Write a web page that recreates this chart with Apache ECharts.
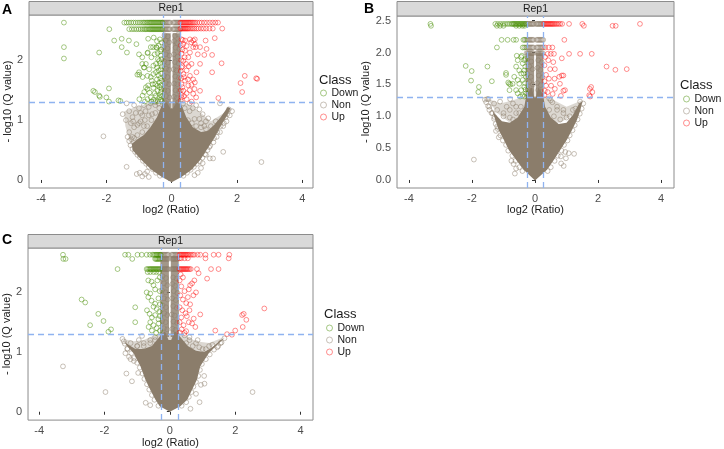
<!DOCTYPE html>
<html><head><meta charset="utf-8">
<script src="https://cdn.jsdelivr.net/npm/echarts@6/dist/echarts.min.js"></script>
<style>html,body{margin:0;padding:0;background:#fff}#c{width:724px;height:449px}</style>
</head><body><div id="c"></div>
<script>
// ---------- shared ----------
const classes = ['Down', 'Non', 'Up'];
const xTicks = [-4, -2, 0, 2, 4];
const yTicksAC = [0, 1, 2];
const yTicksB = [0, 0.5, 1, 1.5, 2, 2.5];
const fcCut = [-0.263, 0.263];
const qCut = 1.301;

// ---------- Panel A ----------
const cloudA = [[-1.45,1.15],[-1.42,0.9],[-1.25,0.6],[-0.6,0.3],[0.6,0.3],[1.3,0.7],[1.82,1.18],[1.6,1.12],[1.2,0.98],[0.9,1.12],[0.6,1.25],[0.3,1.32],[-0.32,1.32],[-0.7,1.28],[-1.1,1.22]];
const colLA = [[-0.29,1.2],[-0.025,1.2],[-0.03,2.45],[-0.28,2.45]];
const colRA = [[0.025,1.2],[0.28,1.2],[0.27,2.45],[0.03,2.45]];
const coreA = [[0,-0.04],[0.3,0.05],[0.61,0.17],[0.87,0.33],[1.07,0.5],[1.27,0.67],[1.5,0.9],[1.7,1.08],[1.8,1.2],[1.72,1.22],[1.5,1.05],[1.3,0.92],[1.1,0.82],[0.9,0.8],[0.65,0.88],[0.45,1.05],[0.3,1.25],[0.15,1.3],[0.04,1.2],[-0.04,1.2],[-0.15,1.3],[-0.3,1.25],[-0.45,1.05],[-0.65,0.88],[-0.85,0.75],[-1.05,0.68],[-1.22,0.6],[-1.2,0.5],[-0.92,0.33],[-0.62,0.17],[-0.3,0.05]];
const downRowsA = [
  [2.63, [-1.45,-1.38,-1.31,-1.24,-1.17,-1.1,-1.03,-0.97,-0.91,-0.86,-0.82,-0.78,-0.74,-0.7,-0.67,-0.64,-0.61,-0.58,-0.55,-0.52,-0.49,-0.46,-0.43,-0.4,-0.37,-0.34,-0.31,-0.28]],
  [2.52, [-1.91,-1.3,-1.22,-1.15,-1.08,-1.01,-0.95,-0.89,-0.84,-0.8,-0.76,-0.72,-0.68,-0.65,-0.62,-0.59,-0.56,-0.53,-0.5,-0.47,-0.44,-0.41,-0.38,-0.35,-0.32,-0.29]]
];
const downA = [[-3.30,2.63],[-3.30,2.22],[-3.30,2.03],[-2.22,2.13],[-1.76,2.33],[-1.53,2.36],[-1.53,2.22],[-1.31,2.33],[-1.37,2.13],[-1.08,2.27],[-0.72,2.36],[-0.57,2.22],[-0.47,2.22],[-0.73,2.13],[-1.0,2.1],[-0.9,1.94],[-0.85,1.88],[-1.0,1.8],[-1.05,1.76],
  [-2.40,1.49],[-2.35,1.47],[-2.22,1.41],[-2.20,1.39],[-2.0,1.38],[-1.92,1.31],[-1.92,1.53],[-1.63,1.33],[-1.57,1.32],
  [-0.74,2.12],[-0.64,2.22],[-0.46,2.21],[-0.43,2.12],[-0.40,2.24],[-0.33,2.08],[-0.38,1.99],[-0.48,1.94],[-0.56,1.91],[-0.45,1.88],[-0.69,1.85],[-0.79,1.94],[-0.84,1.88],[-0.99,1.76],[-0.89,1.72],[-0.74,1.74],[-0.64,1.72],[-0.56,1.77],[-0.48,1.80],[-0.40,1.83],[-0.33,1.85],[-0.61,1.66],[-0.50,1.60],[-0.38,1.63],[-0.79,1.55],[-0.74,1.52],[-0.84,1.47],[-0.56,1.54],[-0.43,1.49],[-0.33,1.47],[-0.48,1.41],[-0.38,1.38],[-0.64,1.38],[-0.74,1.35],[-0.89,1.41],[-0.99,1.35],[-0.56,1.34],[-0.33,1.34],[-0.43,1.58],
  [-0.30,2.3],[-0.32,2.18],[-0.31,2.02],[-0.35,1.95],[-0.30,1.9],[-0.32,1.78],[-0.35,1.7],[-0.30,1.66],[-0.33,1.58],[-0.31,1.52],[-0.36,1.42],[-0.30,1.40],[-0.42,1.32],[-0.30,1.31],[-0.5,1.32],[-0.62,1.31],[-0.82,1.31],[-0.37,1.55],[-0.4,1.75],[-0.45,1.68],[-0.52,1.45],[-0.58,1.6],[-0.68,1.46],[-0.72,1.58],[-0.36,2.35],[-0.45,2.32],[-0.55,2.38],[-0.62,2.05],[-0.52,2.1],[-0.9,2.05],[-0.35,2.15],[-0.42,2.02]];
const upRowsA = [
  [2.63, [0.27,0.3,0.33,0.36,0.39,0.42,0.45,0.48,0.51,0.54,0.57,0.6,0.64,0.68,0.72,0.78,0.85,0.92,1.0,1.08,1.17,1.26,1.34,1.42]],
  [2.53, [0.27,0.3,0.33,0.36,0.39,0.42,0.45,0.48,0.51,0.55,0.6,0.65,0.7,0.76,0.82,0.9,0.98,1.06,1.16,1.26,1.55]]
];
const upA = [[0.34,2.34],[0.41,2.33],[0.56,2.35],[0.66,2.33],[0.71,2.35],[1.04,2.33],[1.32,2.37],[1.07,2.19],[0.87,2.22],[0.74,2.22],[1.0,2.09],[1.24,2.09],[1.53,1.95],[0.87,1.94],[1.24,1.80],[2.24,1.74],[2.59,1.70],[2.62,1.69],[2.11,1.62],[2.16,1.47],[1.43,1.37],[0.87,1.49],
  [0.30,2.35],[0.36,2.27],[0.46,2.24],[0.41,2.16],[0.30,2.11],[0.56,2.13],[0.51,2.05],[0.36,1.99],[0.44,1.94],[0.61,1.94],[0.30,1.88],[0.46,1.83],[0.36,1.77],[0.56,1.74],[0.66,1.68],[0.41,1.66],[0.30,1.60],[0.51,1.58],[0.61,1.59],[0.36,1.49],[0.46,1.45],[0.66,1.44],[0.30,1.38],[0.46,1.35],[0.61,1.31],[0.71,1.63],[0.76,1.80],[0.66,2.22],[0.71,2.27],
  [0.28,2.25],[0.29,2.0],[0.28,1.82],[0.29,1.7],[0.28,1.5],[0.3,1.42],[0.28,1.33],[0.33,2.18],[0.33,1.9],[0.33,1.55],[0.38,1.4],[0.4,2.05],[0.52,1.9],[0.55,1.5],[0.7,1.52],[0.75,1.38],[0.38,1.72],[0.5,1.68],[0.8,2.1],[0.6,2.3]];
const nonRowsA = [
  [2.63, [-0.27,-0.245,-0.22,-0.195,-0.17,-0.145,-0.12,-0.095,-0.07,-0.045,0.05,0.075,0.1,0.125,0.15,0.175,0.2,0.225,0.25]],
  [2.52, [-0.275,-0.25,-0.225,-0.2,-0.175,-0.15,-0.125,-0.1,-0.075,-0.05,0.04,0.065,0.09,0.115,0.14,0.165,0.19,0.215,0.24,0.26]]
];
const nonA = [[-0.22,2.42],[-0.12,2.40],[0.1,2.41],[0.2,2.43],[-0.18,2.33],[-0.08,2.30],[0.08,2.32],[0.16,2.29],[-0.24,2.22],[-0.13,2.2],[0.12,2.21],[0.23,2.19],[-0.18,2.1],[-0.07,2.08],[0.07,2.1],[0.18,2.06],[-0.22,1.98],[-0.12,1.96],[0.1,1.97],[0.21,1.95],[-0.17,1.86],[-0.08,1.84],[0.06,1.85],[0.15,1.83],[-0.23,1.74],[-0.13,1.72],[0.11,1.73],[0.22,1.71],[-0.18,1.62],[-0.08,1.6],[0.08,1.61],[0.17,1.6],[-0.22,1.5],[-0.12,1.49],[0.12,1.5],[0.23,1.48],[-0.17,1.4],[-0.07,1.38],[0.07,1.39],[0.16,1.37],[-0.21,1.3],[0.2,1.3],
  [-1.5,1.1],[-1.38,1.28],[-1.3,1.15],[-1.2,1.05],[-1.1,1.12],[-1.0,1.2],[-0.9,1.08],[-0.8,1.15],[-0.7,1.22],[-0.6,1.1],[-0.5,1.25],[-1.25,0.95],[-1.15,0.88],[-1.05,0.92],[-0.95,0.98],[-0.85,0.9],[-1.3,0.8],[-1.35,0.72],[-2.09,0.73],[-1.38,0.22],[-1.07,0.1],[-0.98,0.12],[-0.9,0.06],[-0.82,0.1],[-0.75,0.14],[-0.7,0.05],[-0.5,1.3],[-0.4,1.28],
  [1.17,0.36],[1.27,0.36],[1.58,0.47],[2.75,0.30],[1.48,1.28],[1.12,1.03],[0.95,1.1],[0.85,1.18],[0.75,1.25],[0.65,1.2],[0.55,1.28],[1.0,0.9],[0.9,0.95],[1.3,0.7],[1.4,0.8],[1.6,0.95],[1.7,1.1],[1.75,1.18],[1.65,1.05],[1.5,0.9],[1.35,0.82],[1.25,0.75],[0.8,0.12],[0.7,0.08],[0.9,0.2],[0.95,0.28],[1.05,0.42],[1.15,0.55],
  [-0.36,0.07],[-0.48,0.12],[-0.58,0.18],[-0.7,0.22],[-0.78,0.27],[-0.88,0.32],[-0.97,0.38],[-1.05,0.42],[-1.12,0.47],[-1.2,0.52],[-1.26,0.58],[-1.3,0.65],[-1.24,0.68],[-1.15,0.7],
  [0.36,0.07],[0.47,0.12],[0.58,0.17],[0.68,0.22],[0.77,0.27],[0.86,0.31],[0.94,0.37],[1.02,0.43],[1.1,0.5],[1.18,0.57],[1.28,0.63],[1.38,0.72],[1.48,0.8],[1.58,0.9],[1.68,0.98],[1.78,1.08],[1.85,1.15],
  [-1.2,0.72],[-1.05,0.75],[-0.9,0.8],[-0.75,0.9],[-0.62,1.0],[-0.5,1.12],[-0.38,1.2],[-1.18,0.98],[-1.0,0.95],[-0.82,1.0],[-0.7,1.08],[-0.95,1.12],[-0.85,1.25],[-0.65,1.28],[-1.15,1.25],[-1.4,1.0],
  [0.5,1.0],[0.62,0.95],[0.75,0.9],[0.9,0.88],[1.05,0.85],[1.2,0.9],[1.35,0.98],[0.55,1.15],[0.7,1.02],[0.85,1.02],[1.05,0.98],[0.4,1.2],[0.35,1.28]];

// ---------- Panel B ----------
const cloudB = [[-1.52,1.28],[-1.2,1.05],[-0.8,0.9],[0.8,0.9],[1.2,1.02],[1.5,1.25],[1.0,1.15],[0.6,1.25],[0.3,1.32],[-0.3,1.32],[-0.7,1.25],[-1.1,1.2]];
const colLB = [[-0.3,1.3],[-0.025,1.3],[-0.03,2.0],[-0.3,2.0]];
const colRB = [[0.025,1.3],[0.27,1.3],[0.26,2.0],[0.03,2.0]];
const coreB = [[0,-0.01],[0.38,0.16],[0.59,0.31],[0.8,0.47],[1.01,0.63],[1.17,0.78],[1.33,0.94],[1.44,1.1],[1.5,1.23],[1.4,1.2],[1.2,1.02],[1.0,0.9],[0.75,0.88],[0.5,0.98],[0.32,1.15],[0.25,1.35],[0.1,1.45],[0.03,1.3],[-0.03,1.3],[-0.1,1.45],[-0.27,1.35],[-0.34,1.15],[-0.55,0.98],[-0.8,0.9],[-1.05,0.92],[-1.3,1.05],[-1.52,1.26],[-1.36,1.1],[-1.26,0.94],[-1.15,0.78],[-0.99,0.63],[-0.83,0.47],[-0.59,0.31],[-0.36,0.16]];
const downRowsB = [
  [2.45, [-3.32,-1.26,-1.18,-1.1,-1.02,-0.95,-0.88,-0.82,-0.76,-0.72,-0.69,-0.66,-0.63,-0.6,-0.57,-0.54,-0.51,-0.48,-0.45,-0.42,-0.39,-0.36,-0.33,-0.3]],
  [2.42, [-3.30,-1.21,-1.11,-1.0,-0.6,-0.5,-0.4,-0.33]],
  [2.20, [-1.06,-0.87,-0.68,-0.60,-0.37,-0.33]],
  [2.08, [-1.21,-0.39,-0.34]],
  [1.95, [-0.58,-0.42]]
];
const downB = [[-2.20,1.79],[-2.01,1.71],[-2.03,1.56],[-1.51,1.78],[-1.78,1.46],[-1.80,1.38],[-1.37,1.55],[-0.92,1.65],[-0.85,1.53],[-0.82,1.51],[-0.92,1.68],[-0.78,1.50],
  [-0.55,1.88],[-0.44,1.93],[-0.39,1.83],[-0.34,1.88],[-0.60,1.78],[-0.50,1.72],[-0.34,1.72],[-0.44,1.67],[-0.66,1.62],[-0.55,1.57],[-0.39,1.57],[-0.29,1.62],[-0.71,1.51],[-0.50,1.51],[-0.34,1.46],[-0.44,1.41],[-0.60,1.41],[-0.29,1.36],[-0.39,1.33],[-0.34,1.31],[-0.55,1.36],[-0.32,1.52],[-0.31,1.78],[-0.36,1.67],[-0.30,1.42],[-0.47,1.31],[-0.81,1.41],[-0.30,1.9]];
const upRowsB = [
  [2.45, [0.28,0.31,0.34,0.37,0.4,0.43,0.46,0.49,0.52,0.55,0.58,0.62,0.66,0.7,0.75,0.8,0.86,1.08,1.50,3.33]],
  [2.42, [1.55,2.46,2.56]],
  [2.20, [0.93]],
  [2.08, [0.32,0.44,0.55]],
  [1.98, [0.4,0.5,0.6,1.08,1.43,1.80]]
];
const upB = [[0.85,1.91],[0.58,1.85],[0.63,1.74],[0.85,1.64],[0.90,1.64],[0.77,1.62],[0.62,1.59],[0.48,1.74],[0.44,1.59],[0.51,1.48],[0.63,1.43],[0.90,1.40],[0.79,1.51],[2.27,1.78],[2.55,1.73],[2.91,1.74],[1.78,1.46],[1.74,1.43],[1.82,1.38],[1.72,1.33],[0.56,1.35],[0.82,1.32],[0.95,1.41],[0.35,1.48],[0.31,1.40],[0.32,1.93],[0.3,1.8],[0.35,1.65],[0.3,1.55],[0.3,1.33],[0.4,1.38],[1.75,1.31],[0.42,1.88]];
const nonRowsB = [
  [2.45, [-0.28,-0.255,-0.23,-0.205,-0.18,-0.155,-0.13,-0.105,-0.08,-0.055,-0.03,0.03,0.055,0.08,0.105,0.13,0.155,0.18,0.205,0.23,0.255]],
  [2.20, [-0.29,-0.26,-0.23,-0.2,-0.17,-0.14,-0.11,-0.08,-0.05,0.05,0.08,0.11,0.14,0.17,0.2,0.23,0.26]],
  [2.08, [-0.29,-0.26,-0.23,-0.2,-0.17,-0.14,-0.11,-0.08,-0.05,0.05,0.08,0.11,0.14,0.17,0.2,0.23,0.26]],
  [1.99, [-0.27,-0.24,-0.21,-0.18,-0.15,-0.12,-0.09,-0.06,0.06,0.09,0.12,0.15,0.18,0.21,0.24]]
];
const nonB = [[-0.24,1.9],[-0.12,1.86],[0.1,1.88],[0.21,1.85],[-0.18,1.78],[-0.08,1.74],[0.08,1.76],[0.17,1.73],[-0.24,1.66],[-0.13,1.62],[0.12,1.64],[0.23,1.61],[-0.18,1.54],[-0.07,1.5],[0.07,1.52],[0.18,1.49],[-0.22,1.42],[-0.12,1.4],[0.1,1.41],[0.21,1.38],[-0.17,1.32],[0.15,1.3],
  [-1.52,1.27],[-1.49,1.16],[-1.45,1.10],[-1.29,0.99],[-1.20,0.84],[-1.15,0.67],[-1.24,0.77],[-1.94,0.32],[-1.59,1.26],[-1.48,1.27],[-1.11,1.23],[-0.79,1.27],[-1.35,1.05],[-1.0,1.05],[-0.8,1.1],[-0.6,1.15],[-0.7,0.95],[-0.5,1.05],
  [0.96,0.44],[1.07,0.42],[1.24,0.41],[0.82,0.37],[0.98,0.34],[0.83,0.26],[0.91,0.22],[-0.68,0.25],[-0.64,0.10],[-0.6,0.18],[-0.75,0.3],[1.43,1.23],[1.28,1.12],[1.1,1.0],[0.9,1.05],[0.7,1.1],[0.55,1.22],[0.45,1.28],
  [-0.4,0.14],[-0.5,0.2],[-0.62,0.3],[-0.72,0.38],[-0.85,0.46],[-0.92,0.55],[-1.02,0.62],[-1.1,0.7],[-1.18,0.8],[-1.25,0.88],[-1.3,0.96],[-1.38,1.05],[-1.45,1.15],[-1.55,1.22],
  [0.4,0.14],[0.5,0.2],[0.62,0.3],[0.72,0.38],[0.84,0.46],[0.92,0.55],[1.03,0.62],[1.1,0.7],[1.19,0.78],[1.26,0.86],[1.35,0.95],[1.42,1.04],[1.48,1.12],[1.53,1.2],
  [-1.2,1.1],[-1.0,1.0],[-0.8,0.98],[-0.6,1.05],[-0.45,1.15],[-0.9,1.15],[-0.7,1.2],[-1.3,1.2],[0.45,1.1],[0.6,1.0],[0.8,0.95],[1.0,0.98],[1.2,1.1],[0.7,1.15],[0.9,1.1],[0.5,1.25]];

// ---------- Panel C ----------
const cloudC = [[-1.42,1.22],[-1.1,1.05],[1.05,1.0],[1.67,1.25],[1.2,1.15],[0.8,1.18],[0.3,1.32],[-0.3,1.32],[-0.8,1.2],[-1.1,1.18]];
const colLC = [[-0.3,1.25],[-0.025,1.25],[-0.03,2.6],[-0.29,2.6]];
const colRC = [[0.025,1.25],[0.28,1.25],[0.27,2.6],[0.03,2.6]];
const coreC = [[0,0.0],[0.32,0.09],[0.53,0.2],[0.68,0.37],[0.83,0.54],[0.93,0.76],[1.19,0.98],[1.44,1.12],[1.67,1.23],[1.55,1.2],[1.3,1.08],[1.05,1.0],[0.8,1.02],[0.55,1.1],[0.32,1.25],[0.15,1.35],[0.04,1.2],[-0.04,1.2],[-0.15,1.35],[-0.32,1.25],[-0.55,1.1],[-0.8,1.05],[-1.05,1.05],[-1.25,1.12],[-1.41,1.18],[-1.31,1.1],[-1.11,0.98],[-0.9,0.76],[-0.75,0.54],[-0.6,0.37],[-0.44,0.2],[-0.31,0.09]];
const downRowsC = [
  [2.63, [-3.27,-1.37,-1.27,-0.99,-0.86,-0.71,-0.61,-0.53,-0.49,-0.45,-0.42,-0.39,-0.36,-0.33,-0.3,-0.28]],
  [2.56, [-3.26,-3.19,-1.15,-0.45,-0.42,-0.39,-0.36,-0.33,-0.3]],
  [2.39, [-1.60,-0.71,-0.67,-0.63,-0.6,-0.57,-0.54,-0.51,-0.48,-0.45,-0.42,-0.39,-0.36,-0.33,-0.3]],
  [2.34, [-0.68,-0.6,-0.5,-0.42,-0.33]]
];
const downC = [[-2.70,1.88],[-2.59,1.83],[-2.19,1.64],[-2.03,1.52],[-2.44,1.45],[-1.80,1.38],[-1.88,1.34],[-1.06,1.75],[-1.06,1.50],[-0.71,2.0],
  [-0.66,2.2],[-0.56,2.18],[-0.5,2.12],[-0.45,2.05],[-0.6,1.98],[-0.66,1.92],[-0.56,1.86],[-0.45,1.81],[-0.5,1.76],[-0.4,1.72],[-0.35,1.9],[-0.62,1.64],[-0.45,1.62],[-0.35,1.55],[-0.6,1.5],[-0.5,1.45],[-0.4,1.4],[-0.3,1.36],[-0.55,1.36],[-0.65,1.42],[-0.32,1.68],[-0.31,2.02],[-0.3,1.8],[-0.38,2.2],[-0.34,1.48],[-0.42,1.32],[-0.7,1.7],[-0.3,1.6],[-0.31,2.25],[-0.55,1.58]];
const upRowsC = [
  [2.63, [0.29,0.32,0.35,0.38,0.41,0.44,0.47,0.5,0.53,0.56,0.6,0.65,0.70,0.75,0.85,0.93,1.09,1.34,1.49,1.82]],
  [2.57, [0.3,0.35,0.45,0.55,1.09,1.80]],
  [2.39, [0.29,0.32,0.35,0.38,0.41,0.44,0.47,0.5,0.53,0.56,0.6,0.64,0.83,1.26,1.49]]
];
const upC = [[0.88,2.32],[1.14,2.23],[0.58,2.05],[0.68,2.15],[0.75,2.2],[0.8,2.0],[0.62,2.12],[0.72,1.95],[0.93,1.63],[2.21,1.62],[2.26,1.64],[2.34,1.54],[2.23,1.42],[2.89,1.73],[1.39,1.36],[1.90,1.29],[2.0,1.36],[1.75,1.30],[0.73,1.56],[0.78,1.42],[0.68,1.48],[0.58,1.5],[0.52,1.6],
  [0.3,2.2],[0.35,2.1],[0.45,2.02],[0.32,1.95],[0.4,1.88],[0.5,1.82],[0.3,1.75],[0.38,1.7],[0.48,1.65],[0.35,1.58],[0.3,1.5],[0.42,1.45],[0.36,1.38],[0.3,1.33],[0.5,1.35],[0.45,1.32],[0.6,1.7],[0.55,1.92],[0.62,1.8],[0.4,2.25],[0.33,2.3]];
const nonRowsC = [
  [2.63, [-0.27,-0.245,-0.22,-0.195,-0.17,-0.145,-0.12,-0.095,-0.07,-0.045,0.05,0.075,0.1,0.125,0.15,0.175,0.2,0.225,0.25]],
  [2.56, [-0.26,-0.23,-0.2,-0.17,-0.14,-0.11,-0.08,-0.05,0.06,0.09,0.12,0.15,0.18,0.21,0.24]],
  [2.39, [-0.27,-0.245,-0.22,-0.195,-0.17,-0.145,-0.12,-0.095,-0.07,-0.045,0.05,0.075,0.1,0.125,0.15,0.175,0.2,0.225,0.25]]
];
const nonC = [[-0.22,2.27],[-0.12,2.24],[0.1,2.25],[0.2,2.23],[-0.18,2.15],[-0.08,2.12],[0.08,2.14],[0.16,2.11],[-0.24,2.03],[-0.13,2.0],[0.12,2.02],[0.23,1.99],[-0.18,1.9],[-0.07,1.88],[0.07,1.9],[0.18,1.87],[-0.22,1.78],[-0.12,1.75],[0.1,1.77],[0.21,1.74],[-0.17,1.65],[-0.08,1.62],[0.06,1.63],[0.15,1.61],[-0.23,1.52],[-0.13,1.5],[0.11,1.51],[0.22,1.49],[-0.18,1.4],[-0.08,1.38],[0.08,1.39],[0.17,1.37],
  [-3.27,0.76],[-1.97,0.33],[-1.33,0.64],[-1.16,0.51],[-0.97,0.65],[2.53,0.33],[1.06,0.47],[0.91,0.16],[0.63,0.05],[-0.74,0.15],[-0.60,0.11],[-0.85,1.27],[-1.36,0.98],[-1.41,1.18],[-1.3,1.05],[-1.25,0.92],[-1.2,0.88],[-1.1,0.85],[-1.45,1.22],[-1.0,1.1],[-0.8,1.15],[-0.6,1.2],[-0.45,1.25],
  [1.67,1.23],[1.55,1.15],[1.45,1.08],[1.2,1.1],[1.0,1.05],[0.8,1.15],[0.6,1.2],[0.45,1.28],[1.05,0.6],[0.95,0.45],[0.8,0.3],
  [-0.35,0.1],[-0.47,0.2],[-0.55,0.28],[-0.63,0.37],[-0.7,0.46],[-0.78,0.55],[-0.84,0.64],[-0.92,0.74],[-1.0,0.82],[-1.1,0.9],[-1.18,0.98],[-1.3,1.06],[-1.38,1.14],
  [0.36,0.1],[0.5,0.16],[0.58,0.25],[0.66,0.33],[0.72,0.42],[0.8,0.5],[0.87,0.6],[0.92,0.7],[0.98,0.8],[1.1,0.88],[1.22,0.96],[1.35,1.04],[1.48,1.1],[1.58,1.16],
  [-1.2,1.15],[-1.0,1.1],[-0.8,1.1],[-0.6,1.15],[-0.45,1.2],[-0.95,1.2],[0.5,1.15],[0.7,1.1],[0.9,1.08],[1.1,1.05],[1.3,1.12],[0.6,1.25],[0.85,1.2]];

// ---------- helpers ----------
const RING = {Down:'rgba(69,139,0,0.6)', Non:'rgba(139,125,107,0.6)', Up:'rgba(255,0,0,0.55)'};
const LEG = {Down:'rgba(69,139,0,0.6)', Non:'rgba(139,125,107,0.6)', Up:'rgba(255,0,0,0.55)'};
const FONT = 'Liberation Sans, Arial, sans-serif';
function expandRows(rows){const out=[];rows.forEach(r=>r[1].forEach(x=>out.push([x,r[0]])));return out;}

const panels = [
  {key:'A', grid:{left:29, top:15, width:284, height:173}, x:[-4.37,4.33], y:[-0.134,2.757], yTicks:yTicksAC, yFmt:v=>String(v),
   cloud:cloudA, cols:[colLA,colRA], core:coreA, down:expandRows(downRowsA).concat(downA), non:expandRows(nonRowsA).concat(nonA), up:expandRows(upRowsA).concat(upA),
   strip:[29,1.5,284,13.5], letter:[2,10], legendTitle:[319,80], legend:[320,87], xName:16, yName:16},
  {key:'B', grid:{left:397, top:16, width:277, height:172}, x:[-4.38,4.41], y:[-0.126,2.574], yTicks:yTicksB, yFmt:v=>v.toFixed(1),
   cloud:cloudB, cols:[colLB,colRB], core:coreB, down:expandRows(downRowsB).concat(downB), non:expandRows(nonRowsB).concat(nonB), up:expandRows(upRowsB).concat(upB),
   strip:[397,1.5,277,14.5], letter:[364,9], legendTitle:[680,85], legend:[683,93], xName:16, yName:22},
  {key:'C', grid:{left:28, top:248, width:285, height:173}, x:[-4.34,4.38], y:[-0.14,2.743], yTicks:yTicksAC, yFmt:v=>String(v),
   cloud:cloudC, cols:[colLC,colRC], core:coreC, down:expandRows(downRowsC).concat(downC), non:expandRows(nonRowsC).concat(nonC), up:expandRows(upRowsC).concat(upC),
   strip:[28,234.5,285,13.5], letter:[2,240], legendTitle:[324,314], legend:[326,322], xName:12, yName:16}
];

const option = {animation:false, backgroundColor:'#fff', textStyle:{fontFamily:FONT},
  grid:[], xAxis:[], yAxis:[], series:[], legend:[], graphic:[]};

panels.forEach((p,i)=>{
  option.grid.push(Object.assign({show:true, borderColor:'#8c8c8c', borderWidth:1, backgroundColor:'#fff', containLabel:false}, p.grid));
  option.xAxis.push({type:'value', gridIndex:i, min:p.x[0], max:p.x[1], name:'log2 (Ratio)', nameLocation:'middle', nameGap:p.xName,
    nameTextStyle:{fontSize:11, color:'#1a1a1a', fontFamily:FONT},
    axisLine:{show:false}, splitLine:{show:false},
    axisTick:{show:true, length:3, customValues:xTicks, lineStyle:{color:'#333'}},
    axisLabel:{customValues:xTicks, fontSize:11, color:'#4d4d4d', margin:5, fontFamily:FONT}});
  option.yAxis.push({type:'value', gridIndex:i, min:p.y[0], max:p.y[1], name:'- log10 (Q value)', nameLocation:'middle', nameGap:p.yName, nameRotate:90,
    nameTextStyle:{fontSize:11, color:'#1a1a1a', fontFamily:FONT},
    axisLine:{show:false}, splitLine:{show:false},
    axisTick:{show:true, length:3, customValues:p.yTicks, lineStyle:{color:'#333'}},
    axisLabel:{customValues:p.yTicks, fontSize:11, color:'#4d4d4d', margin:6, formatter:p.yFmt, fontFamily:FONT}});
  const polySeries = (polys, fill) => ({type:'custom', xAxisIndex:i, yAxisIndex:i, silent:true, clip:true, z:1,
    data:[[0,0]], renderItem:(params, api)=>({type:'group', children:polys.map(poly=>({type:'polygon', shape:{points:poly.map(pt=>api.coord(pt))}, style:{fill:fill}}))})});
  option.series.push(polySeries([p.cloud], 'rgba(139,125,107,0.3)'));
  option.series.push(polySeries(p.cols, 'rgba(139,125,107,0.8)'));
  option.series.push(polySeries([p.core], '#8B7D6B'));
  [['Non',p.non],['Down',p.down],['Up',p.up]].forEach(([name,data])=>{
    option.series.push({type:'scatter', name:name, xAxisIndex:i, yAxisIndex:i, data:data, symbol:'circle', symbolSize:4.8, silent:true, z:2,
      itemStyle:{color:'rgba(0,0,0,0)', borderColor:RING[name], borderWidth:1}, emphasis:{disabled:true}});
  });
  option.series.push({type:'scatter', xAxisIndex:i, yAxisIndex:i, data:[], silent:true, z:5,
    markLine:{silent:true, symbol:['none','none'], label:{show:false}, animation:false,
      lineStyle:{color:'#8fb3f0', width:1.3, type:[6,4]},
      data:[{xAxis:fcCut[0]},{xAxis:fcCut[1]},{yAxis:qCut}]}});
  option.legend.push({left:p.legend[0], top:p.legend[1], orient:'vertical', selectedMode:false, itemWidth:6, itemHeight:6, itemGap:0, padding:0,
    icon:'circle', textStyle:{fontSize:10.5, lineHeight:12, color:'#1a1a1a', fontFamily:FONT},
    data:classes.map(c=>({name:c, icon:'circle', itemStyle:{color:'rgba(0,0,0,0)', borderColor:LEG[c], borderWidth:1}}))});
  option.graphic.push({type:'rect', silent:true, shape:{x:p.strip[0], y:p.strip[1], width:p.strip[2], height:p.strip[3]}, style:{fill:'#d9d9d9', stroke:'#8c8c8c', lineWidth:1}});
  option.graphic.push({type:'text', silent:true, x:p.strip[0]+p.strip[2]/2, y:p.strip[1]+p.strip[3]/2, style:{text:'Rep1', fontSize:10.5, fill:'#1a1a1a', align:'center', verticalAlign:'middle', fontFamily:FONT}});
  option.graphic.push({type:'text', silent:true, x:p.letter[0], y:p.letter[1], style:{text:p.key, fontSize:14, fontWeight:'bold', fill:'#000', verticalAlign:'middle', fontFamily:FONT}});
  option.graphic.push({type:'text', silent:true, x:p.legendTitle[0], y:p.legendTitle[1], style:{text:'Class', fontSize:13, fill:'#1a1a1a', verticalAlign:'middle', fontFamily:FONT}});
});

const chart = echarts.init(document.getElementById('c'), null, {renderer:'canvas'});
chart.setOption(option);
</script>
</body></html>
